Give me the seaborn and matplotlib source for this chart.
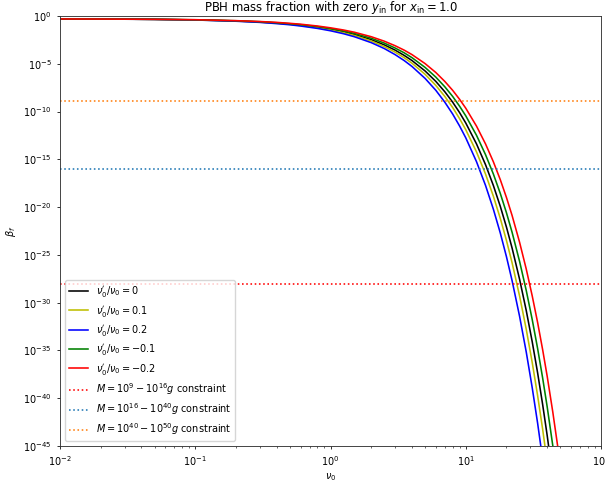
import numpy as np
import pandas as pd
import matplotlib
matplotlib.use("Agg")
import matplotlib.pyplot as plt
import seaborn as sns

# nu_0 sample points shared by every curve
nu0 = [0.01, 0.02, 0.05, 0.1, 0.2, 0.3, 0.4, 0.5, 0.6, 0.8, 1, 1.25, 1.5, 2, 2.5,
       3, 3.5, 4, 5, 6, 7, 8, 9, 10, 12, 14, 16, 18, 20, 22, 25, 28, 31, 34,
       37, 40, 44, 48, 52]

# log10(beta_f) for each nu_0'/nu_0 ratio
logbeta_0 = [-0.31, -0.32, -0.35, -0.41, -0.52, -0.63, -0.74, -0.85, -0.95, -1.17,
             -1.39, -1.66, -1.94, -2.48, -3.03, -3.57, -4.12, -4.66, -5.75, -6.84,
             -7.93, -9.02, -10.11, -11.2, -13.38, -15.56, -17.74, -19.92, -22.1,
             -24.28, -27.55, -30.82, -34.09, -37.36, -40.63, -43.9, -48.26,
             -52.62, -56.98]
logbeta_p01 = [-0.31, -0.32, -0.36, -0.42, -0.53, -0.65, -0.76, -0.88, -1.00, -1.23,
               -1.46, -1.75, -2.04, -2.62, -3.2, -3.78, -4.36, -4.94, -6.1, -7.26,
               -8.42, -9.58, -10.74, -11.9, -14.22, -16.54, -18.86, -21.18, -23.5,
               -25.82, -29.3, -32.78, -36.26, -39.74, -43.22, -46.7, -51.34,
               -55.98, -60.62]
logbeta_p02 = [-0.31, -0.32, -0.36, -0.42, -0.55, -0.67, -0.80, -0.92, -1.05, -1.30,
               -1.55, -1.86, -2.17, -2.79, -3.41, -4.04, -4.66, -5.28, -6.53, -7.77,
               -9.02, -10.26, -11.51, -12.75, -15.24, -17.73, -20.22, -22.71, -25.2,
               -27.69, -31.43, -35.16, -38.9, -42.63, -46.37, -50.1, -55.08,
               -60.06, -65.04]
logbeta_m01 = [-0.31, -0.32, -0.35, -0.40, -0.50, -0.60, -0.71, -0.81, -0.91, -1.11,
               -1.32, -1.57, -1.82, -2.33, -2.84, -3.35, -3.85, -4.36, -5.38, -6.39,
               -7.41, -8.42, -9.44, -10.45, -12.48, -14.51, -16.54, -18.57, -20.6,
               -22.63, -25.68, -28.72, -31.77, -34.81, -37.86, -40.9, -44.96,
               -49.02, -53.08]
logbeta_m02 = [-0.31, -0.32, -0.35, -0.39, -0.49, -0.58, -0.67, -0.77, -0.86, -1.05,
               -1.24, -1.47, -1.70, -2.17, -2.64, -3.11, -3.57, -4.04, -4.98, -5.91,
               -6.85, -7.78, -8.72, -9.65, -11.52, -13.39, -15.26, -17.13, -19.0,
               -20.87, -23.68, -26.48, -29.29, -32.09, -34.9, -37.7, -41.44,
               -45.18, -48.92]

series_labels = [r"$\nu_0'/\nu_0 = 0$", r"$\nu_0'/\nu_0 = 0.1$",
                 r"$\nu_0'/\nu_0 = 0.2$", r"$\nu_0'/\nu_0 = -0.1$",
                 r"$\nu_0'/\nu_0 = -0.2$"]
series_values = [logbeta_0, logbeta_p01, logbeta_p02, logbeta_m01, logbeta_m02]
series_colors = ["k", "y", "b", "g", "r"]

# observational bounds on beta in three PBH mass windows
constraint_labels = [r"$M = 10^{9} - 10^{16}g$ constraint",
                     r"$M = 10^{16} - 10^{40}g$ constraint",
                     r"$M = 10^{40} - 10^{50}g$ constraint"]
constraint_values = [1e-28, 1e-16, 1.2e-9]
constraint_colors = ["r", "C0", "C1"]

frames = []
for lab, vals in zip(series_labels, series_values):
    frames.append(pd.DataFrame({"nu0": nu0,
                                "beta": np.power(10.0, vals),
                                "case": lab}))
df = pd.concat(frames, ignore_index=True)

scale = 0.7
plt.rcParams.update({
    "font.size": 10 * scale,
    "axes.linewidth": 0.8 * scale * 1.15,
    "xtick.major.size": 3.5 * scale,
    "ytick.major.size": 3.5 * scale,
    "xtick.minor.size": 2.0 * scale,
    "ytick.minor.size": 2.0 * scale,
    "xtick.major.width": 0.8 * scale,
    "ytick.major.width": 0.8 * scale,
    "xtick.minor.width": 0.6 * scale,
    "ytick.minor.width": 0.6 * scale,
    "axes.edgecolor": "#333333",
})

fig = plt.figure(figsize=(6.05, 4.84), dpi=100)
ax = fig.add_axes([0.0992, 0.0785, 0.8942, 0.8885])
ax.set_xscale("log")
ax.set_yscale("log")

lw = 1.15
sns.lineplot(data=df, x="nu0", y="beta", hue="case", hue_order=series_labels,
             palette=dict(zip(series_labels, series_colors)), ax=ax,
             linewidth=lw, legend=False)
for lab, col in zip(series_labels, series_colors):
    ax.plot([], [], color=col, linewidth=lw, label=lab)

for val, lab, col in zip(constraint_values, constraint_labels, constraint_colors):
    ax.axhline(val, color=col, linestyle=":", linewidth=lw, label=lab)

ax.set_xlim(1e-2, 1e2)
ax.set_ylim(1e-45, 1e0)
ax.set_xlabel(r"$\nu_0$", labelpad=2)
ax.set_ylabel(r"$\beta_f$")
ax.set_title(r"PBH mass fraction with zero $y_{\rm in}$ for $x_{\rm in} = 1.0$",
             fontsize=8.4, pad=2.5)
ax.legend(loc="lower left", labelspacing=0.45)

fig.savefig("out.png", dpi=100)
